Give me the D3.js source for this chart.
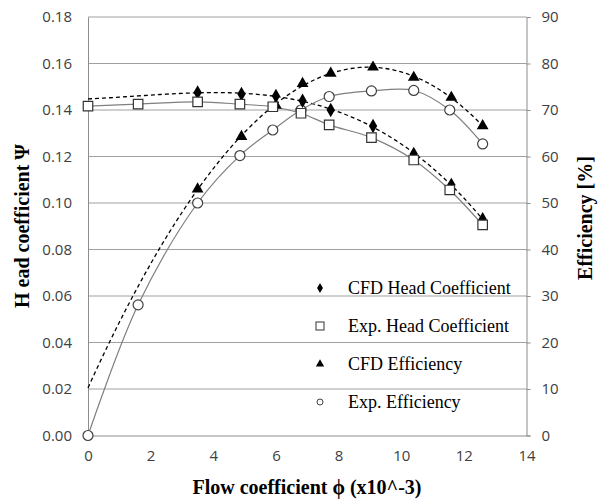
<!DOCTYPE html>
<html>
<head>
<meta charset="utf-8">
<script src="https://cdn.jsdelivr.net/npm/d3@7"></script>
<style>
  body { margin: 0; background: #fff; }
  .tick text { font-family: "Open Sans", sans-serif; font-size: 15px; fill: #404040; }
  .title { font-family: "Liberation Serif", "Times New Roman", serif; font-weight: bold; font-size: 20px; fill: #000; }
  .legend text { font-family: "Liberation Serif", "Times New Roman", serif; font-size: 18px; fill: #000; }
</style>
</head>
<body>
<svg id="chart" width="607" height="503"></svg>
<script>
// flow coefficient values (x10^-3)
let expX = [0, 1.6, 3.5, 4.85, 5.9, 6.8, 7.7, 9.05, 10.4, 11.55, 12.6];
let expHead = [0.1417, 0.1425, 0.1435, 0.1425, 0.1414, 0.1386, 0.1336, 0.1281, 0.1185, 0.1056, 0.0906];
let expEff = [0, 28.1, 50.0, 60.2, 65.7, 70.0, 72.9, 74.1, 74.2, 70.0, 62.7];

let cfdX = [3.5, 4.9, 6.0, 6.85, 7.75, 9.1, 10.4, 11.6, 12.6];
let cfdHead = [0.1475, 0.1469, 0.1460, 0.1440, 0.1400, 0.1331, 0.1211, 0.1078, 0.0930];
let cfdEff = [53.0, 64.3, 71.0, 75.7, 77.9, 79.2, 77.0, 72.7, 66.6];

let xTicks = [0, 2, 4, 6, 8, 10, 12, 14];
let yTicks = [0, 0.02, 0.04, 0.06, 0.08, 0.10, 0.12, 0.14, 0.16, 0.18];
let y2Ticks = [0, 10, 20, 30, 40, 50, 60, 70, 80, 90];

let legendNames = ["CFD Head Coefficient", "Exp. Head Coefficient", "CFD Efficiency", "Exp. Efficiency"];

let svg = d3.select("#chart");
let plotLeft = 88, plotRight = 526.5, plotTop = 17, plotBottom = 435.5;

let x = d3.scaleLinear().domain([0, 14]).range([plotLeft, plotRight]);
let y = d3.scaleLinear().domain([0, 0.18]).range([plotBottom, plotTop]);
let y2 = d3.scaleLinear().domain([0, 90]).range([plotBottom, plotTop]);

// gridlines
svg.append("g").selectAll("line")
  .data(yTicks.slice(1))
  .enter().append("line")
    .attr("x1", plotLeft).attr("x2", plotRight)
    .attr("y1", d => y(d)).attr("y2", d => y(d))
    .attr("stroke", "#a0a0a0").attr("stroke-width", 1);

// left axis
let gy = svg.append("g")
  .attr("transform", "translate(" + plotLeft + ",0)")
  .call(d3.axisLeft(y).tickValues(yTicks).tickFormat(d3.format(".2f")).tickSize(0).tickPadding(16));
gy.select(".domain").attr("stroke", "#8c8c8c");

// right axis
let gy2 = svg.append("g")
  .attr("transform", "translate(" + plotRight + ",0)")
  .call(d3.axisRight(y2).tickValues(y2Ticks).tickSize(4).tickPadding(11));
gy2.select(".domain").attr("stroke", "#8c8c8c");
gy2.selectAll(".tick line").attr("stroke", "#8c8c8c");

// bottom axis
let gx = svg.append("g")
  .attr("transform", "translate(0," + plotBottom + ")")
  .call(d3.axisBottom(x).tickValues(xTicks).tickSize(0).tickPadding(15));
gx.select(".domain").attr("stroke", "#8c8c8c");

// least squares polynomial fit, like a spreadsheet trendline
function polyFit(xs, ys, order) {
  let n = order + 1;
  let A = [], b = [];
  for (let i = 0; i < n; i++) {
    A.push([]);
    for (let j = 0; j < n; j++) A[i].push(d3.sum(xs, v => Math.pow(v, i + j)));
    b.push(d3.sum(xs, (v, k) => ys[k] * Math.pow(v, i)));
  }
  for (let c = 0; c < n; c++) {
    let p = c;
    for (let r = c + 1; r < n; r++) if (Math.abs(A[r][c]) > Math.abs(A[p][c])) p = r;
    [A[c], A[p]] = [A[p], A[c]];
    [b[c], b[p]] = [b[p], b[c]];
    for (let r = c + 1; r < n; r++) {
      let f = A[r][c] / A[c][c];
      for (let k = c; k < n; k++) A[r][k] -= f * A[c][k];
      b[r] -= f * b[c];
    }
  }
  let coef = new Array(n).fill(0);
  for (let r = n - 1; r >= 0; r--) {
    let s = b[r];
    for (let k = r + 1; k < n; k++) s -= A[r][k] * coef[k];
    coef[r] = s / A[r][r];
  }
  return v => coef.reduce((acc, c, i) => acc + c * Math.pow(v, i), 0);
}

let fitHead = polyFit(cfdX, cfdHead, 3);
let fitEff = polyFit(cfdX, cfdEff, 3);
let fitRange = d3.range(0, d3.max(cfdX) + 0.001, 0.1);

let trend = d3.line().x(d => x(d[0])).y(d => d[1]);
svg.append("path")
  .attr("d", trend(fitRange.map(v => [v, y(fitHead(v))])))
  .attr("fill", "none").attr("stroke", "#000").attr("stroke-width", 1.3).attr("stroke-dasharray", "4,3");
svg.append("path")
  .attr("d", trend(fitRange.map(v => [v, y2(fitEff(v))])))
  .attr("fill", "none").attr("stroke", "#000").attr("stroke-width", 1.3).attr("stroke-dasharray", "4,3");

// smoothed lines through experimental points
let smooth = d3.line().curve(d3.curveCatmullRom.alpha(0.5));
svg.append("path")
  .attr("d", smooth(expX.map((v, i) => [x(v), y(expHead[i])])))
  .attr("fill", "none").attr("stroke", "#7f7f7f").attr("stroke-width", 1.2);
svg.append("path")
  .attr("d", smooth(expX.map((v, i) => [x(v), y2(expEff[i])])))
  .attr("fill", "none").attr("stroke", "#7f7f7f").attr("stroke-width", 1.2);

// markers
let diamond = d3.symbol().type(d3.symbolDiamond).size(60);
let square = d3.symbol().type(d3.symbolSquare).size(90);
let triangle = d3.symbol().type(d3.symbolTriangle).size(60);

svg.append("g").selectAll("path")
  .data(cfdX)
  .enter().append("path")
    .attr("d", triangle)
    .attr("transform", (d, i) => "translate(" + x(d) + "," + y2(cfdEff[i]) + ")")
    .attr("fill", "#000");

svg.append("g").selectAll("circle")
  .data(expX)
  .enter().append("circle")
    .attr("cx", d => x(d))
    .attr("cy", (d, i) => y2(expEff[i]))
    .attr("r", 5)
    .attr("fill", "#fff").attr("stroke", "#404040").attr("stroke-width", 1.2);

svg.append("g").selectAll("path")
  .data(cfdX)
  .enter().append("path")
    .attr("d", diamond)
    .attr("transform", (d, i) => "translate(" + x(d) + "," + y(cfdHead[i]) + ")")
    .attr("fill", "#000");

svg.append("g").selectAll("path")
  .data(expX)
  .enter().append("path")
    .attr("d", square)
    .attr("transform", (d, i) => "translate(" + x(d) + "," + y(expHead[i]) + ")")
    .attr("fill", "#fff").attr("stroke", "#333").attr("stroke-width", 1.2);

// legend
let legend = svg.append("g").attr("class", "legend");
let legendY = [288, 326, 364, 402];
legendNames.forEach(function(name, i) {
  let g = legend.append("g").attr("transform", "translate(320," + legendY[i] + ")");
  if (i == 0) g.append("path").attr("d", d3.symbol().type(d3.symbolDiamond).size(30)).attr("fill", "#000");
  if (i == 1) g.append("rect").attr("x", -4).attr("y", -4).attr("width", 8).attr("height", 8).attr("fill", "#fff").attr("stroke", "#333");
  if (i == 2) g.append("path").attr("d", d3.symbol().type(d3.symbolTriangle).size(30)).attr("fill", "#000");
  if (i == 3) g.append("circle").attr("r", 3).attr("fill", "#fff").attr("stroke", "#404040");
  g.append("text").attr("x", 28).attr("dy", "0.35em").text(name);
});

// axis titles
svg.append("text").attr("class", "title")
  .attr("x", 307).attr("y", 494).attr("text-anchor", "middle")
  .text("Flow coefficient \u03d5 (x10^-3)");
svg.append("text").attr("class", "title")
  .attr("transform", "translate(29,226) rotate(-90)").attr("text-anchor", "middle")
  .text("H ead coefficient \u03a8");
svg.append("text").attr("class", "title")
  .attr("transform", "translate(592,218) rotate(-90)").attr("text-anchor", "middle")
  .text("Efficiency [%]");
</script>
</body>
</html>
